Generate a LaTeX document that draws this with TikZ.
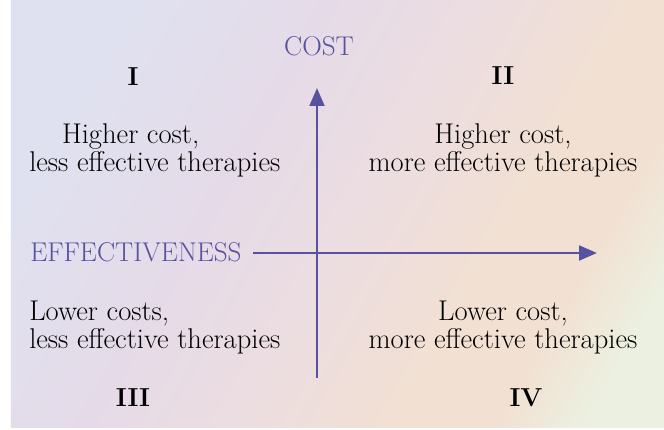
\documentclass[tikz,border=0pt]{standalone}
\usepackage{xcolor}
\usepackage{tikz}
\usetikzlibrary{arrows.meta, positioning}

\definecolor{axisblue}{RGB}{86,82,160}
\definecolor{bgA}{HTML}{DFE1F0}
\definecolor{bgB}{HTML}{E5DBE8}
\definecolor{bgC}{HTML}{ECDDE0}
\definecolor{bgD}{HTML}{F2E0D2}
\definecolor{bgE}{HTML}{ECF0E0}

\pgfdeclarehorizontalshading{quadbg}{100bp}{color(0bp)=(bgA); color(25bp)=(bgA);
  color(40bp)=(bgB); color(52bp)=(bgC); color(64bp)=(bgD); color(71bp)=(bgD);
  color(78bp)=(bgE); color(100bp)=(bgE)}

\begin{document}
\begin{tikzpicture}[
                axis/.style={draw=axisblue, line width=1.9pt,
                    -{Triangle[length=0.45cm, width=0.37cm]}},
                axislabel/.style={text=axisblue, inner sep=0pt,
                    font=\fontsize{19.3}{20}\selectfont},
                numeral/.style={inner sep=0pt, anchor=base,
                    font=\fontsize{18.5}{20}\selectfont\bfseries},
                quadtext/.style={inner sep=0pt, anchor=base,
                    font=\fontsize{20.3}{20}\selectfont}
            ]
                % Background
                \useasboundingbox (-7.925,-4.425) rectangle (8.675,6.325);
                \shade[shading=quadbg, shading angle=-30]
                    (-7.65,-4.375) rectangle (8.675,6.325);

                % Axes
                \coordinate (O) at (0,0);
                \coordinate (xstart) at (-1.6,0);
                \coordinate (xend) at (7.0,0);
                \coordinate (ystart) at (0,-3.125);
                \coordinate (yend) at (0,4.125);
                \node[axislabel, anchor=base] (cost) at (0.05,4.925) {COST};
                \node[axislabel, anchor=base west] (eff) at (-7.175,-0.225) {EFFECTIVENESS};

                \draw[axis] (xstart) -- (xend);
                \draw[axis] (ystart) -- (yend);

                % Quadrant numbers
                \node[numeral] (qI) at (-4.6,4.175) {I};
                \node[numeral] (qII) at (4.65,4.2) {II};
                \node[numeral] (qIII) at (-4.6,-3.85) {III};
                \node[numeral] (qIV) at (5.225,-3.85) {IV};

                % Quadrant texts (anchored on the last baseline)
                \node[quadtext, anchor=base west, align=left] (textI) at (-7.2,2.025)
                    {\hspace*{0.82cm}Higher cost,\\less effective therapies};
                \node[quadtext, align=center] (textII) at (4.65,2.025)
                    {Higher cost,\\more effective therapies};
                \node[quadtext, anchor=base west, align=left] (textIII) at (-7.2,-2.4)
                    {Lower costs,\\less effective therapies};
                \node[quadtext, align=center] (textIV) at (4.65,-2.4)
                    {Lower cost,\\more effective therapies};
            \end{tikzpicture}
\end{document}
